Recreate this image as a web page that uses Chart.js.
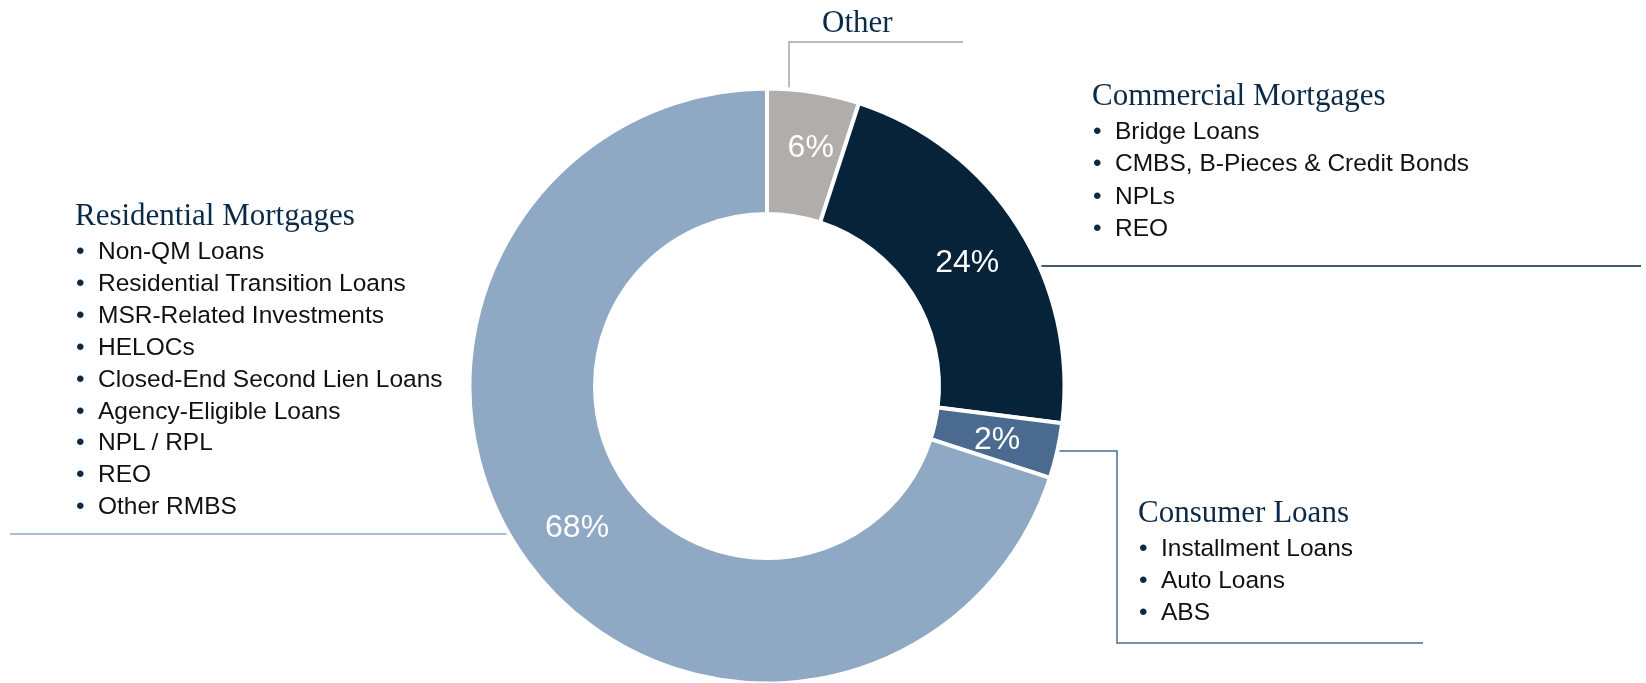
<!DOCTYPE html>
<html>
<head>
<meta charset="utf-8">
<script src="https://cdn.jsdelivr.net/npm/chart.js@4.4.0/dist/chart.umd.min.js"></script>
<style>
    html, body { margin: 0; padding: 0; background: #fff; }
    #wrap { position: relative; width: 1646px; height: 683px; overflow: hidden; }
    #wrap canvas { position: absolute; left: 0; top: 0; }
    .block { position: absolute; }
    .block h3 { margin: 0; font: normal 31px/36px 'Liberation Serif', 'Times New Roman', serif; color: #0b2a47; white-space: nowrap; }
    .block ul { list-style: none; margin: 2px 0 0 0; padding: 0; }
    .block li { position: relative; padding-left: 23px; font: 24.5px/32px 'Liberation Sans', Arial, sans-serif; color: #111; white-space: nowrap; }
    .block li::before { content: '\2022'; position: absolute; left: 1px; top: 0; color: #0b2a47; }
</style>
</head>
<body>
<div id="wrap">
    <canvas id="mixChart" width="1646" height="683"></canvas>
</div>
<script>
// slices, clockwise from 12 o'clock
const groupNames = ['Other', 'Commercial Mortgages', 'Consumer Loans', 'Residential Mortgages'];
const sliceValues = [5, 22, 3, 70];
const sliceLabels = ['6%', '24%', '2%', '68%'];

const commercialItems = ['Bridge Loans', 'CMBS, B-Pieces & Credit Bonds', 'NPLs', 'REO'];
const consumerItems = ['Installment Loans', 'Auto Loans', 'ABS'];
const residentialItems = [
    'Non-QM Loans',
    'Residential Transition Loans',
    'MSR-Related Investments',
    'HELOCs',
    'Closed-End Second Lien Loans',
    'Agency-Eligible Loans',
    'NPL / RPL',
    'REO',
    'Other RMBS'
];

const sliceColors = ['#b0adab', '#06233a', '#4a6b8f', '#8fa9c4'];
// small hand nudges for the in-slice labels (px)
const labelNudge = [[7, -6], [2, 3], [1, 3], [0, 4]];

// text blocks around the ring
function addBlock(title, items, left, top, lineH) {
    const div = document.createElement('div');
    div.className = 'block';
    div.style.left = left + 'px';
    div.style.top = top + 'px';
    const h = document.createElement('h3');
    h.textContent = title;
    div.appendChild(h);
    if (items.length) {
        const ul = document.createElement('ul');
        items.forEach(t => {
            const li = document.createElement('li');
            li.textContent = t;
            li.style.lineHeight = lineH + 'px';
            ul.appendChild(li);
        });
        div.appendChild(ul);
    }
    document.getElementById('wrap').appendChild(div);
}

addBlock(groupNames[0], [], 822, 4, 32);
addBlock(groupNames[1], commercialItems, 1092, 77, 32.3);
addBlock(groupNames[2], consumerItems, 1138, 494, 32);
addBlock(groupNames[3], residentialItems, 75, 197, 31.9);

// leader lines, drawn under the ring so they stop at its edge
const leaderLines = {
    id: 'leaderLines',
    beforeDatasetsDraw(chart) {
        const ctx = chart.ctx;
        ctx.save();
        ctx.lineWidth = 1.5;

        ctx.strokeStyle = '#a6a6a6';
        ctx.beginPath();
        ctx.moveTo(789, 100);
        ctx.lineTo(789, 42);
        ctx.lineTo(963, 42);
        ctx.stroke();

        ctx.strokeStyle = sliceColors[1];
        ctx.beginPath();
        ctx.moveTo(1000, 266);
        ctx.lineTo(1641, 266);
        ctx.stroke();

        ctx.strokeStyle = sliceColors[2];
        ctx.beginPath();
        ctx.moveTo(1000, 451);
        ctx.lineTo(1117, 451);
        ctx.lineTo(1117, 643);
        ctx.lineTo(1423, 643);
        ctx.stroke();

        ctx.strokeStyle = sliceColors[3];
        ctx.beginPath();
        ctx.moveTo(10, 534);
        ctx.lineTo(560, 534);
        ctx.stroke();

        ctx.restore();
    }
};

// white percentage inside each slice
const sliceText = {
    id: 'sliceText',
    afterDatasetsDraw(chart) {
        const ctx = chart.ctx;
        const meta = chart.getDatasetMeta(0);
        ctx.save();
        ctx.fillStyle = '#ffffff';
        ctx.font = '32px "Liberation Sans", Arial, sans-serif';
        ctx.textAlign = 'center';
        ctx.textBaseline = 'middle';
        meta.data.forEach((arc, i) => {
            const p = arc.tooltipPosition();
            ctx.fillText(sliceLabels[i], p.x + labelNudge[i][0], p.y + labelNudge[i][1]);
        });
        ctx.restore();
    }
};

new Chart(document.getElementById('mixChart'), {
    type: 'doughnut',
    data: {
        labels: groupNames,
        datasets: [{
            data: sliceValues,
            backgroundColor: sliceColors,
            borderColor: '#ffffff',
            borderWidth: 4
        }]
    },
    options: {
        responsive: false,
        animation: false,
        radius: 297.5,
        cutout: '57.8%',
        layout: { padding: { left: 0, right: 112, top: 89, bottom: 0 } },
        plugins: {
            legend: { display: false },
            tooltip: { enabled: false }
        }
    },
    plugins: [leaderLines, sliceText]
});
</script>
</body>
</html>
